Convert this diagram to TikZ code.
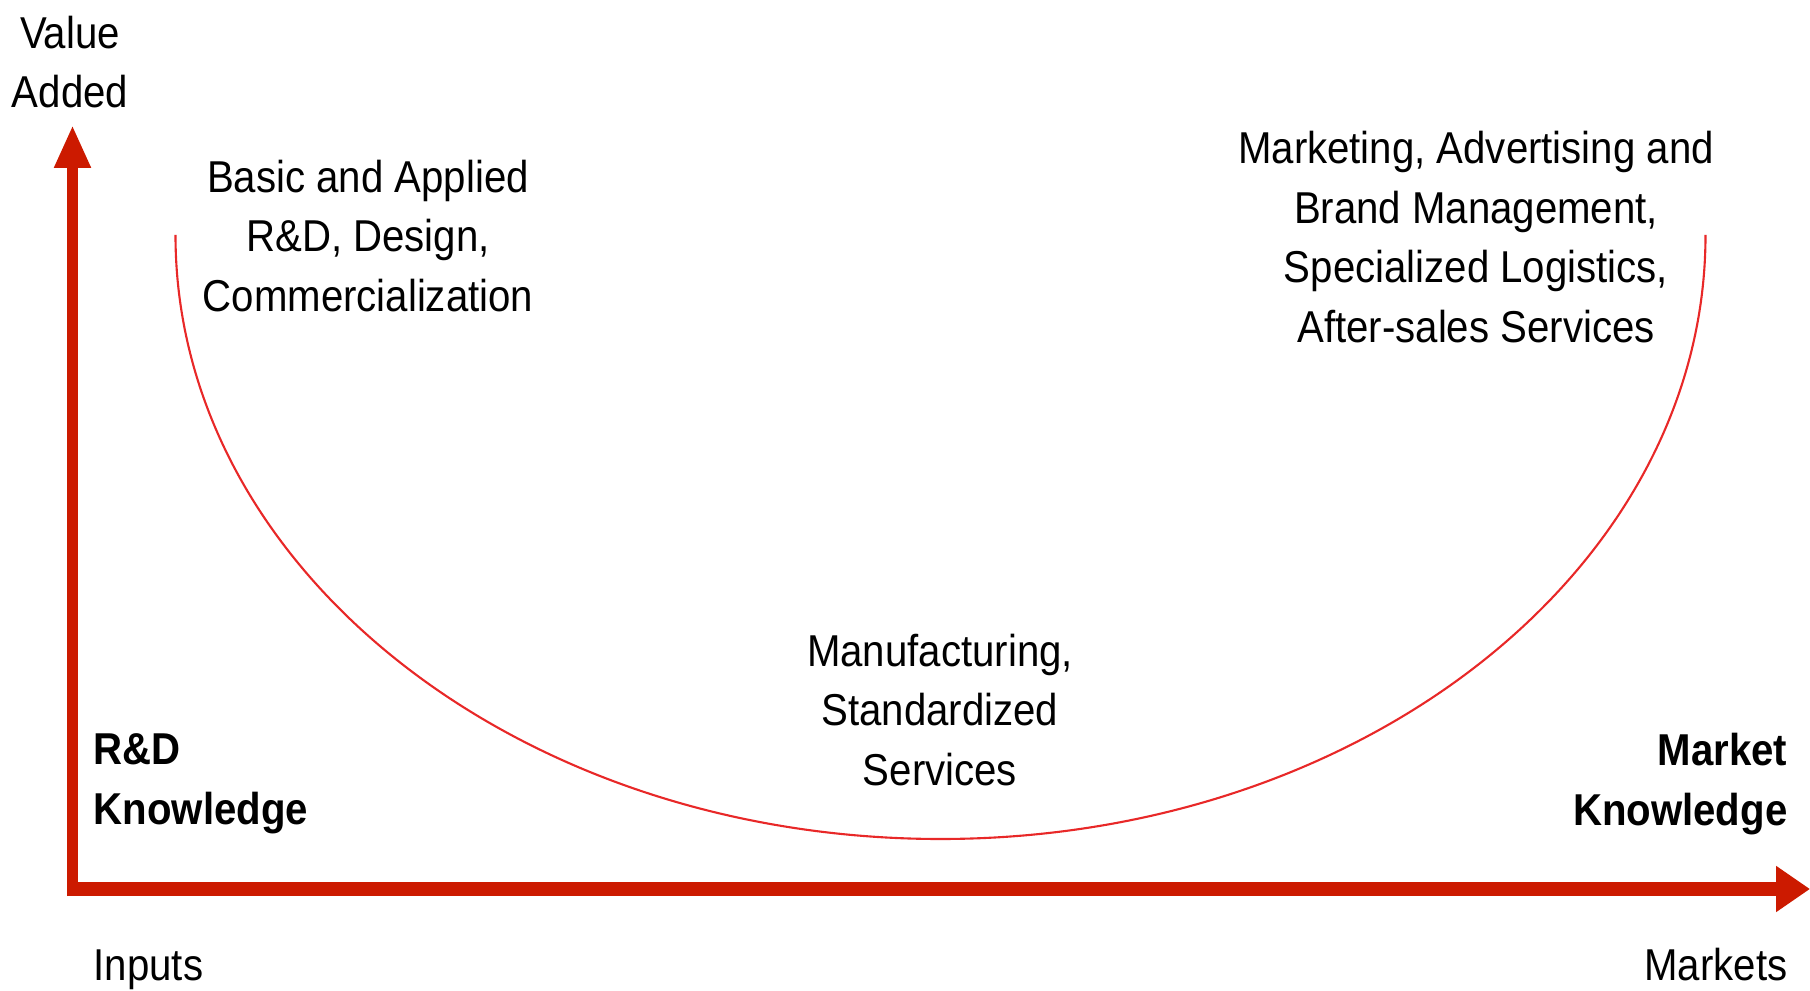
\documentclass[tikz,border=0pt]{standalone}
\usepackage{fontspec}
\setmainfont[FakeStretch=0.9]{Liberation Sans}
\usetikzlibrary{arrows.meta}
\definecolor{axisred}{RGB}{204,26,0}
\definecolor{curvered}{RGB}{232,40,40}

\begin{document}
\begin{tikzpicture}[
  yaxisline/.style={axisred, line width=0.11cm, -{Triangle[length=0.43cm, width=0.34cm]}},
  xaxisline/.style={axisred, line width=0.14cm, -{Triangle[length=0.34cm, width=0.44cm]}},
  smile/.style={curvered, line width=0.6pt},
  txt/.style={inner sep=0pt, align=center, font=\fontsize{12.7}{17}\selectfont},
  keytxt/.style={txt, font=\fontsize{12.7}{17}\selectfont\bfseries}
]
  \useasboundingbox (0,0) rectangle (18.1,9.9);
  % axes
  \coordinate (ybottom) at (0.725,0.94);
  \coordinate (vtip) at (0.725,8.65);
  \coordinate (xleft) at (0.67,1.01);
  \coordinate (htip) at (18.10,1.01);
  \draw[yaxisline] (ybottom) -- (vtip);
  \draw[xaxisline] (xleft) -- (htip);
  % smile curve
  \coordinate (smileleft) at (1.755,7.55);
  \draw[smile] (smileleft) arc[start angle=180, end angle=360, x radius=7.65, y radius=6.04];
  % labels
  \node[txt] (valueadded) at (0.70,9.28) {Value\\Added};
  \node[txt] (research) at (3.68,7.54) {Basic and Applied\\R\&D, Design,\\Commercialization};
  \node[txt] (marketing) at (14.76,7.53) {Marketing, Advertising and\\Brand Management,\\Specialized Logistics,\\After-sales Services};
  \node[txt] (manufacturing) at (9.40,2.80) {Manufacturing,\\Standardized\\Services};
  \node[keytxt, anchor=west, align=left] (rdknow) at (0.93,2.06) {R\&D\\Knowledge};
  \node[keytxt, anchor=east, align=right] (mktknow) at (17.88,2.06) {Market\\Knowledge};
  \node[txt, anchor=base west] (inputs) at (0.93,0.10) {Inputs};
  \node[txt, anchor=base east] (markets) at (17.88,0.10) {Markets};
\end{tikzpicture}
\end{document}
